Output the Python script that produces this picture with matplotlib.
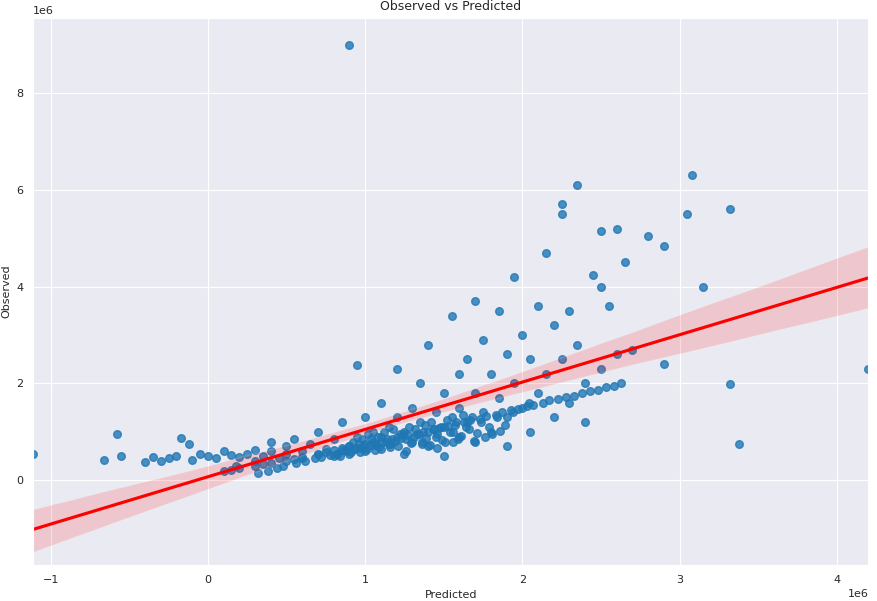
import matplotlib
matplotlib.use("Agg")
import matplotlib.pyplot as plt
import numpy as np
import seaborn as sns

# values, in millions
predicted = [-1.11, -0.66, -0.58, -0.55, -0.40, -0.35, -0.30, -0.25, -0.20, -0.17, -0.12, -0.10, -0.05, 0.00,
             0.05, 0.10, 0.15, 0.18, 0.20, 0.25, 0.30, 0.30, 0.35, 0.40, 0.40, 0.45, 0.50, 0.50, 0.55, 0.60,
             0.60, 0.65, 0.70, 0.70, 0.75, 0.80, 0.80, 0.85, 0.90, 0.90, 0.90, 0.95, 0.95, 1.00, 1.00, 1.00,
             1.05, 1.05, 1.10, 1.10, 1.10, 1.15, 1.15, 1.20, 1.20, 1.20, 1.25, 1.25, 1.30, 1.30, 1.35, 1.35,
             1.40, 1.40, 1.40, 1.45, 1.45, 1.50, 1.50, 1.50, 1.55, 1.55, 1.60, 1.60, 1.60, 1.65, 1.65, 1.70,
             1.70, 1.70, 1.75, 1.75, 1.80, 1.80, 1.85, 1.85, 1.90, 1.90, 1.90, 1.95, 1.95, 2.00, 2.00, 2.05,
             2.05, 2.10, 2.10, 2.15, 2.15, 2.20, 2.20, 2.25, 2.25, 2.25, 2.30, 2.30, 2.35, 2.35, 2.40, 2.40,
             2.45, 2.50, 2.50, 2.50, 2.55, 2.60, 2.60, 2.65, 2.70, 2.80, 2.90, 2.90, 3.05, 3.08, 3.15, 3.32,
             3.32, 3.38, 4.20,
             0.92, 0.98, 1.02, 1.08, 1.12, 1.18, 1.22, 1.28, 1.32, 1.38, 1.42, 1.48, 1.52, 1.58, 1.62, 1.68,
             0.96, 1.04, 1.14, 1.24, 1.34, 1.44, 1.54, 1.64, 1.74, 1.84, 1.94, 2.04,
             0.32, 0.38, 0.44, 0.48, 0.56, 0.62, 0.68, 0.72, 0.78, 0.82, 0.88, 0.93, 0.97, 1.03, 1.07, 1.13,
             1.17, 1.23, 1.27, 1.33, 1.37, 1.43, 1.47, 1.53, 1.57, 1.63, 1.67, 1.73, 1.77, 1.83, 1.87, 1.93,
             1.97, 2.03, 2.07, 2.13, 2.17, 2.23, 2.28, 2.33, 2.38, 2.43, 2.48, 2.53, 2.58, 2.63,
             0.10, 0.20, 0.30, 0.40, 0.50, 0.60, 0.70, 0.80, 0.90, 0.15, 0.35, 0.55, 0.75, 0.85,
             0.82, 0.86, 0.91, 0.94, 0.99, 1.01, 1.06, 1.09, 1.11, 1.16, 1.19, 1.21, 1.26, 1.29, 1.31, 1.36,
             1.39, 1.41, 1.46, 1.49, 1.51, 1.56, 1.59, 1.61, 1.66, 1.69, 1.71, 1.76, 1.79, 1.81, 1.86, 1.89,
             0.84, 0.97, 1.06, 1.16, 1.26, 1.36, 1.46, 1.56]
observed = [0.55, 0.42, 0.95, 0.50, 0.38, 0.48, 0.40, 0.45, 0.50, 0.88, 0.75, 0.42, 0.55, 0.50,
            0.45, 0.60, 0.52, 0.30, 0.48, 0.55, 0.62, 0.40, 0.50, 0.80, 0.60, 0.45, 0.70, 0.55, 0.85, 0.60,
            0.45, 0.75, 0.55, 1.00, 0.65, 0.50, 0.85, 1.20, 0.70, 0.55, 9.00, 2.38, 0.90, 0.75, 1.30, 0.60,
            1.00, 0.80, 1.60, 0.90, 0.65, 1.10, 0.75, 2.30, 1.30, 0.90, 1.00, 0.55, 1.50, 0.80, 1.20, 2.00,
            1.00, 2.80, 0.70, 1.40, 0.90, 1.80, 1.10, 0.50, 3.40, 1.30, 2.20, 0.90, 1.50, 2.50, 1.20, 3.70,
            1.80, 0.80, 2.90, 1.40, 2.20, 1.00, 3.50, 1.70, 2.60, 1.30, 0.70, 4.20, 2.00, 3.00, 1.50, 2.50,
            1.00, 3.60, 1.80, 4.70, 2.20, 3.20, 1.30, 5.70, 5.50, 2.50, 3.50, 1.60, 6.10, 2.80, 2.00, 1.20,
            4.25, 5.15, 4.00, 2.30, 3.60, 5.20, 2.60, 4.50, 2.70, 5.05, 4.85, 2.40, 5.50, 6.30, 4.00, 5.60,
            1.98, 0.75, 2.30,
            0.80, 0.85, 0.95, 0.90, 1.00, 1.05, 0.95, 1.10, 1.05, 1.15, 1.20, 1.10, 1.25, 1.20, 1.35, 1.30,
            0.75, 0.85, 0.85, 0.95, 0.95, 1.05, 1.00, 1.10, 1.20, 1.30, 1.40, 1.60,
            0.15, 0.20, 0.25, 0.30, 0.35, 0.40, 0.45, 0.47, 0.53, 0.55, 0.60, 0.65, 0.67, 0.73, 0.75, 0.80,
            0.85, 0.87, 0.93, 0.95, 1.00, 1.05, 1.07, 1.13, 1.15, 1.20, 1.25, 1.27, 1.33, 1.35, 1.40, 1.45,
            1.47, 1.53, 1.55, 1.60, 1.65, 1.67, 1.73, 1.75, 1.80, 1.85, 1.87, 1.93, 1.95, 2.00,
            0.20, 0.25, 0.30, 0.35, 0.40, 0.48, 0.55, 0.62, 0.70, 0.22, 0.33, 0.44, 0.58, 0.66,
            0.55, 0.62, 0.58, 0.66, 0.70, 0.64, 0.72, 0.68, 0.78, 0.74, 0.82, 0.70, 0.85, 0.76, 0.90, 0.80,
            0.88, 0.72, 0.95, 0.84, 0.78, 1.00, 0.86, 0.92, 1.05, 0.82, 0.98, 0.90, 1.10, 0.95, 1.02, 1.15,
            0.50, 0.58, 0.62, 0.68, 0.60, 0.75, 0.66, 0.80]

x = np.array(predicted) * 1e6
y = np.array(observed) * 1e6

sns.set_style("darkgrid")
fig, ax = plt.subplots(figsize=(8.77, 6.01), dpi=100)
sns.regplot(x=x, y=y, ax=ax, truncate=False, line_kws={"color": "red"}, scatter_kws={"s": 30})
ax.set_xlim(x.min(), x.max())
ax.set_ylim(-1.75e6, 9.55e6)
ax.set_title("Observed vs Predicted", fontsize=9)
ax.set_xlabel("Predicted", fontsize=8)
ax.set_ylabel("Observed", fontsize=8)
ax.tick_params(labelsize=8)
ax.xaxis.get_offset_text().set_fontsize(8)
ax.yaxis.get_offset_text().set_fontsize(8)
fig.subplots_adjust(left=0.038, right=0.99, top=0.97, bottom=0.06)
fig.savefig("out.png")
